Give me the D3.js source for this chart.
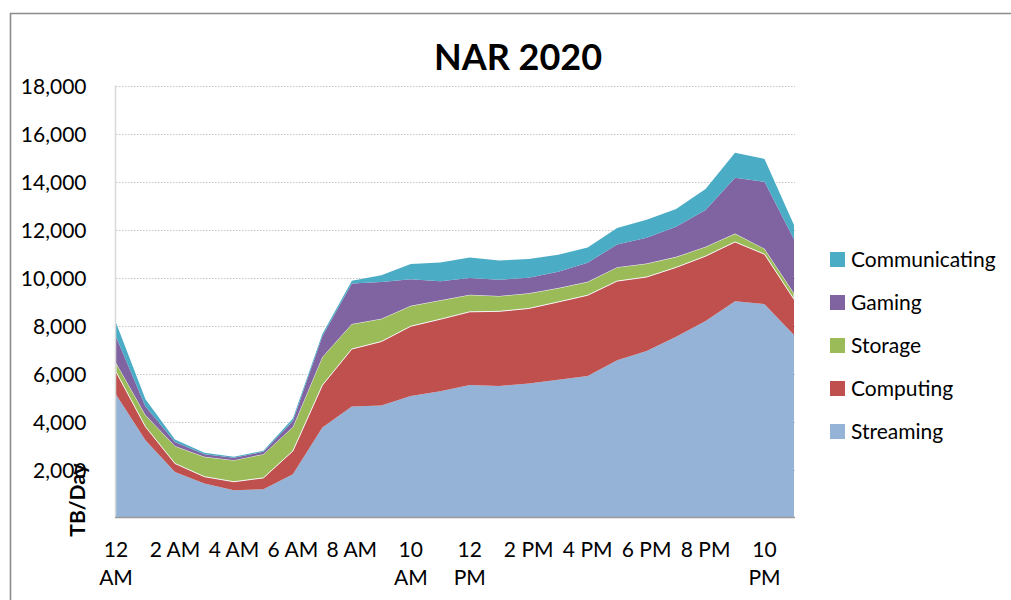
<!DOCTYPE html>
<html>
<head>
<meta charset="utf-8">
<script src="https://cdn.jsdelivr.net/npm/d3@7"></script>
<style>
  body { margin: 0; background: #fff; }
  text { font-family: Lato, 'Open Sans', sans-serif; fill: #000; }
</style>
</head>
<body>
<svg id="chart"></svg>
<script>
// hourly traffic, TB/Day
const hours = d3.range(24);
const tickLabels = ['12 AM', '2 AM', '4 AM', '6 AM', '8 AM', '10 AM', '12 PM', '2 PM', '4 PM', '6 PM', '8 PM', '10 PM'];
const seriesNames = ['Streaming', 'Computing', 'Storage', 'Gaming', 'Communicating'];
const colors = ['#95b3d7', '#c0504d', '#9bbb59', '#8064a2', '#4bacc6'];

const streaming = [5130, 3220, 1900, 1420, 1140, 1180, 1800, 3750, 4620, 4670, 5060, 5260, 5520, 5480, 5580, 5740, 5900, 6550, 6940, 7530, 8190, 9010, 8890, 7600];
const computing = [940, 560, 350, 280, 350, 470, 970, 1760, 2400, 2660, 2910, 3000, 3050, 3110, 3130, 3240, 3360, 3300, 3080, 2890, 2700, 2470, 2080, 1490];
const storage = [380, 490, 730, 830, 900, 990, 1000, 1180, 1040, 950, 850, 790, 710, 640, 630, 580, 560, 580, 560, 440, 390, 350, 230, 250];
const gaming = [1080, 350, 170, 110, 100, 100, 250, 860, 1690, 1530, 1110, 790, 700, 680, 650, 680, 790, 950, 1080, 1250, 1530, 2330, 2790, 2250];
const communicating = [580, 310, 100, 60, 40, 40, 100, 100, 110, 280, 630, 790, 850, 800, 780, 710, 640, 680, 750, 740, 880, 1040, 950, 600];

const yTicks = d3.range(2000, 18001, 2000);

const width = 1011;
const height = 600;

const svg = d3.select('#chart').attr('width', width).attr('height', height);

// outer frame (runs off the right and bottom edge)
svg.append('path')
  .attr('d', `M10.5,${height + 2} V13.5 H${width + 2}`)
  .attr('fill', 'none')
  .attr('stroke', '#8c8c8c')
  .attr('stroke-width', 1.6);

const x = d3.scaleLinear().domain([0, 23]).range([116, 794]);
const y = d3.scaleLinear().domain([0, 18000]).range([517.5, 85.5]);

const table = hours.map((h, i) => ({
  hour: h,
  Streaming: streaming[i],
  Computing: computing[i],
  Storage: storage[i],
  Gaming: gaming[i],
  Communicating: communicating[i],
}));

const stacked = d3.stack().keys(seriesNames)(table);

// gridlines
svg.append('g')
  .selectAll('line')
  .data(yTicks)
  .join('line')
  .attr('x1', 116)
  .attr('x2', 795)
  .attr('y1', (d) => Math.round(y(d)) + 0.5)
  .attr('y2', (d) => Math.round(y(d)) + 0.5)
  .attr('stroke', '#c6c6c6')
  .attr('stroke-width', 1.2)
  .attr('stroke-dasharray', '1.5,1.5');

const area = d3.area()
  .x((d) => x(d.data.hour))
  .y0((d) => y(d[0]))
  .y1((d) => y(d[1]));

svg.append('g')
  .selectAll('path')
  .data(stacked)
  .join('path')
  .attr('d', area)
  .attr('fill', (d, i) => colors[i])
  .attr('stroke', (d) => (d.key === 'Storage' ? '#f4f4f4' : 'none'))
  .attr('stroke-width', 1);

// axes
const yAxis = svg.append('g')
  .attr('transform', 'translate(115.5,0)')
  .call(d3.axisLeft(y).tickValues(yTicks).tickSize(0).tickPadding(29).tickFormat(d3.format(',')));
yAxis.select('.domain').attr('stroke', '#d9d9d9').attr('stroke-width', 1.5)
  .attr('d', `M0,${y(18000)}V${y(0)}`);
yAxis.selectAll('text').style('font-size', '21px').attr('dy', '0.36em');

const xAxis = svg.append('g').attr('transform', `translate(0,${y(0)})`);
xAxis.append('line')
  .attr('x1', 115).attr('x2', 795)
  .attr('stroke', '#9a9a9a').attr('stroke-width', 1.5);

const labels = xAxis.selectAll('text')
  .data(tickLabels)
  .join('text')
  .attr('text-anchor', 'middle')
  .style('font-size', '21px')
  .attr('transform', (d, i) => `translate(${x(i * 2)},39)`);

labels.each(function (d) {
  const parts = d.length > 4 ? d.split(' ') : [d];
  d3.select(this).selectAll('tspan')
    .data(parts)
    .join('tspan')
    .attr('x', 0)
    .attr('y', (p, j) => j * 28)
    .text((p) => p);
});

// title
svg.append('text')
  .attr('x', 518)
  .attr('y', 70)
  .attr('text-anchor', 'middle')
  .style('font-size', '36px')
  .style('font-weight', 'bold')
  .text('NAR 2020');

// axis title
svg.append('text')
  .attr('transform', 'translate(85,500) rotate(-90)')
  .attr('text-anchor', 'middle')
  .style('font-size', '21px')
  .style('font-weight', 'bold')
  .text('TB/Day');

// legend
const legendItems = seriesNames.map((name, i) => ({ name, color: colors[i] })).reverse();
const legend = svg.append('g')
  .selectAll('g')
  .data(legendItems)
  .join('g')
  .attr('transform', (d, i) => `translate(830,${252 + i * 43})`);

legend.append('rect')
  .attr('width', 15)
  .attr('height', 15)
  .attr('fill', (d) => d.color);

legend.append('text')
  .attr('x', 21)
  .attr('y', 7.5)
  .attr('dy', '0.36em')
  .style('font-size', '21px')
  .text((d) => d.name);
</script>
</body>
</html>
